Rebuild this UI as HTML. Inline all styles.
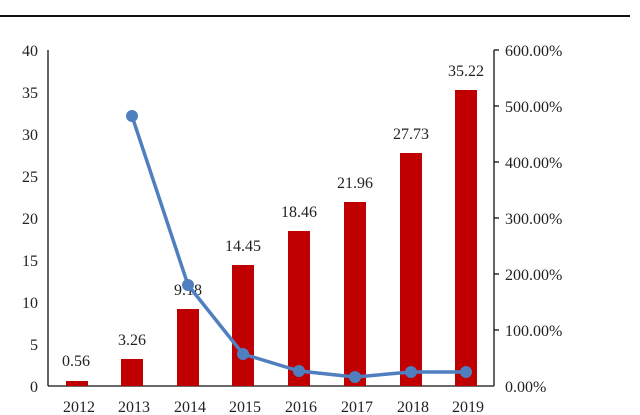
<!DOCTYPE html>
<html><head><style>body{margin:0;background:#fff}svg{display:block}text{font-family:"Liberation Serif",serif;font-size:16px;fill:#222}</style></head>
<body>
<svg width="640" height="415" viewBox="0 0 640 415">
<line x1="0" y1="16" x2="630" y2="16" stroke="#111" stroke-width="2"/>
<g stroke="#111" stroke-width="1.3">
<line x1="48" y1="50" x2="48" y2="386"/>
<line x1="48" y1="386" x2="494" y2="386"/>
<line x1="494" y1="50" x2="494" y2="386"/>
<line x1="494" y1="50" x2="499" y2="50"/><line x1="494" y1="106" x2="499" y2="106"/><line x1="494" y1="162" x2="499" y2="162"/><line x1="494" y1="218" x2="499" y2="218"/><line x1="494" y1="274" x2="499" y2="274"/><line x1="494" y1="330" x2="499" y2="330"/>
</g>
<g text-anchor="end">
<text x="38" y="56">40</text><text x="38" y="98">35</text><text x="38" y="140">30</text><text x="38" y="182">25</text><text x="38" y="224">20</text><text x="38" y="266">15</text><text x="38" y="308">10</text><text x="38" y="350">5</text><text x="38" y="392">0</text>
</g>
<g>
<text x="505" y="56">600.00%</text><text x="505" y="112">500.00%</text><text x="505" y="168">400.00%</text><text x="505" y="224">300.00%</text><text x="505" y="280">200.00%</text><text x="505" y="336">100.00%</text><text x="505" y="392">0.00%</text>
</g>
<g fill="#c00000">
<rect x="66" y="381" width="22" height="5"/>
<rect x="121" y="359" width="22" height="27"/>
<rect x="177" y="309" width="22" height="77"/>
<rect x="232" y="265" width="22" height="121"/>
<rect x="288" y="231" width="22" height="155"/>
<rect x="344" y="202" width="22" height="184"/>
<rect x="400" y="153" width="22" height="233"/>
<rect x="455" y="90" width="22" height="296"/>
</g>
<g text-anchor="middle">
<text x="76" y="366">0.56</text><text x="132" y="345">3.26</text><text x="188" y="295">9.18</text><text x="243" y="251">14.45</text><text x="299" y="217">18.46</text><text x="355" y="188">21.96</text><text x="411" y="139">27.73</text><text x="466" y="76">35.22</text>
<text x="79" y="412">2012</text><text x="134" y="412">2013</text><text x="190" y="412">2014</text><text x="245" y="412">2015</text><text x="301" y="412">2016</text><text x="357" y="412">2017</text><text x="413" y="412">2018</text><text x="468" y="412">2019</text>
</g>
<polyline fill="none" stroke="#4f7fbf" stroke-width="3.5" stroke-linejoin="round" points="132,116 188,285 243,354 299,371 355,377 411,372 466,372"/>
<g fill="#4f7fbf">
<circle cx="132" cy="116" r="6"/><circle cx="188" cy="285" r="6"/><circle cx="243" cy="354" r="6"/><circle cx="299" cy="371" r="6"/><circle cx="355" cy="377" r="6"/><circle cx="411" cy="372" r="6"/><circle cx="466" cy="372" r="6"/>
</g>
</svg>
</body></html>
